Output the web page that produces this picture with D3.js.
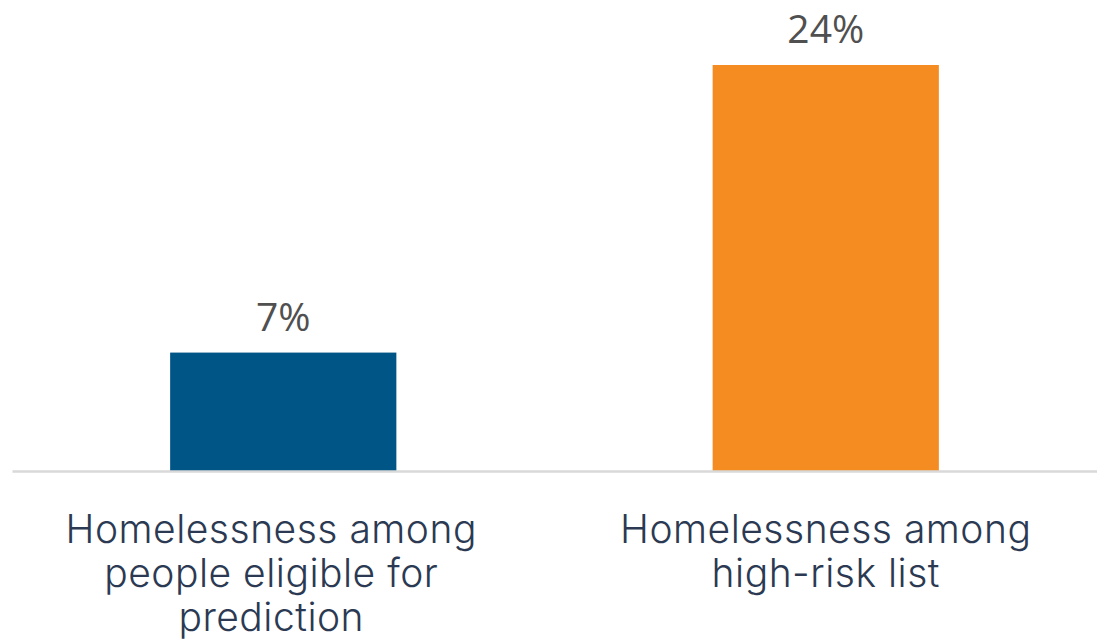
<!DOCTYPE html>
<html>
<head>
<meta charset="utf-8">
<script src="https://cdn.jsdelivr.net/npm/d3@7"></script>
<style>
  html, body { margin: 0; padding: 0; background: #ffffff; }
  svg { display: block; }
</style>
</head>
<body>
<svg id="chart" width="1097" height="640"></svg>
<script>
// Chart data
const categories = ["eligible", "highRisk"];
const categoryLines = [
  ["Homelessness among", "people eligible for", "prediction"],
  ["Homelessness among", "high-risk list"]
];
const values = [7, 24];
const valueLabels = ["7%", "24%"];
const barColors = ["#005587", "#f48c22"];

const width = 1097, height = 640;
const baseY = 471;
const svg = d3.select("#chart");

const x = d3.scaleBand()
  .domain(categories)
  .range([12, 1097])
  .paddingInner(0.583)
  .paddingOuter(0.2915);

const y = d3.scaleLinear()
  .domain([0, 24])
  .range([baseY, 65]);

// Bars
svg.append("g").selectAll("rect")
  .data(categories)
  .join("rect")
  .attr("x", d => x(d))
  .attr("y", (d, i) => y(values[i]))
  .attr("width", x.bandwidth())
  .attr("height", (d, i) => baseY - y(values[i]))
  .attr("fill", (d, i) => barColors[i]);

// Baseline axis
const axis = svg.append("g")
  .attr("transform", `translate(0,${baseY})`)
  .call(d3.axisBottom(x).tickSize(0).tickFormat(""));
axis.select(".domain").attr("stroke", "#d9d9d9").attr("stroke-width", 2.5);

// Value labels
svg.append("g").selectAll("text")
  .data(categories)
  .join("text")
  .attr("x", d => x(d) + x.bandwidth() / 2)
  .attr("y", (d, i) => y(values[i]) - 22)
  .attr("text-anchor", "middle")
  .attr("font-family", "'Open Sans', 'Liberation Sans', sans-serif")
  .attr("font-size", 39)
  .attr("fill", "#505050")
  .text((d, i) => valueLabels[i]);

// Category labels
const cat = svg.append("g").selectAll("text")
  .data(categories)
  .join("text")
  .attr("x", (d, i) => x(d) + x.bandwidth() / 2 + (i === 0 ? -12 : 0))
  .attr("y", 543)
  .attr("text-anchor", "middle")
  .attr("font-family", "'Inter', 'Lato', sans-serif")
  .attr("font-weight", 300)
  .attr("font-size", 39)
  .attr("letter-spacing", 0.5)
  .attr("fill", "#2b3a52");

cat.each(function(d, i) {
  const t = d3.select(this);
  const cx = +t.attr("x");
  categoryLines[i].forEach((line, k) => {
    t.append("tspan")
      .attr("x", cx)
      .attr("dy", k === 0 ? 0 : 44)
      .text(line);
  });
});
</script>
</body>
</html>
